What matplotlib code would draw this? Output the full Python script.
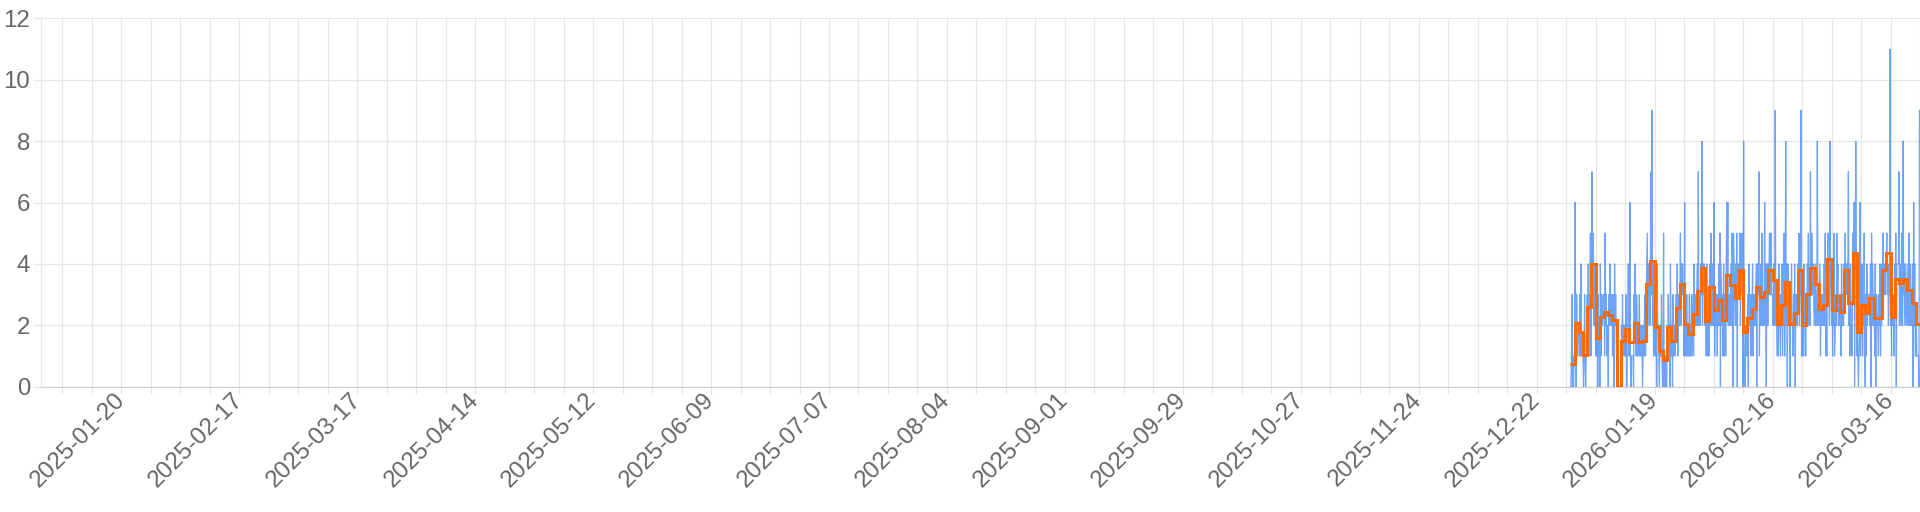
import datetime as dt
import matplotlib
matplotlib.use("Agg")
import matplotlib.pyplot as plt
import matplotlib.dates as mdates

# ---------------- data ----------------
x_start = dt.datetime(2025, 1, 1)
x_end = dt.datetime(2026, 3, 23)
series_start = dt.datetime(2025, 12, 30)

x_tick_labels = ["2025-01-20", "2025-02-17", "2025-03-17", "2025-04-14", "2025-05-12",
                 "2025-06-09", "2025-07-07", "2025-08-04", "2025-09-01", "2025-09-29",
                 "2025-10-27", "2025-11-24", "2025-12-22", "2026-01-19", "2026-02-16",
                 "2026-03-16"]
y_ticks = [0, 2, 4, 6, 8, 10, 12]

# daily average (orange step line), one value per day from 2025-12-30
orange_daily = [0.73, 2.08, 1.78, 1.02, 2.6, 4.0, 1.6, 2.28, 2.42, 2.32,
                2.17, 0.0, 1.49, 1.88, 1.47, 2.08, 1.47, 1.5, 3.35, 4.1,
                1.94, 1.16, 0.87, 1.93, 1.48, 2.55, 3.35, 2.04, 1.73, 2.37,
                3.13, 3.88, 2.14, 3.24, 2.5, 2.84, 2.17, 3.63, 3.32, 2.9,
                3.8, 1.78, 2.25, 2.54, 3.25, 2.92, 3.07, 3.8, 3.46, 2.03,
                2.65, 3.41, 2.05, 2.41, 3.8, 2.01, 3.02, 3.87, 3.35, 2.53,
                2.67, 4.16, 2.51, 2.94, 2.43, 3.8, 2.74, 4.36, 1.77, 2.67,
                2.39, 2.9, 2.24, 2.24, 3.8, 4.36, 2.26, 3.52, 3.37, 3.52,
                3.15, 2.74, 2.03]

# raw counts (blue line), 3-hourly samples per day from 2025-12-30 (estimated)
blue_by_day = [
    [0, 0, 1, 3, 0, 1, 0, 1], [1, 6, 2, 0, 3, 1, 2, 2], [2, 1, 3, 1, 4, 1, 1, 1],
    [1, 0, 1, 3, 1, 0, 1, 1], [3, 2, 4, 1, 3, 2, 5, 1], [4, 7, 3, 5, 4, 2, 4, 3],
    [1, 2, 1, 3, 0, 3, 1, 2], [0, 4, 1, 3, 2, 2, 3, 3], [3, 1, 5, 2, 3, 1, 2, 2],
    [0, 3, 2, 4, 2, 2, 3, 3], [1, 3, 2, 0, 4, 2, 3, 2], [0, 0, 0, 0, 0, 0, 0, 0],
    [0, 2, 1, 3, 1, 2, 2, 1], [2, 1, 3, 0, 2, 2, 4, 1], [1, 6, 1, 0, 1, 1, 1, 1],
    [0, 3, 2, 4, 2, 1, 3, 2], [1, 2, 1, 3, 1, 1, 2, 1], [2, 0, 1, 2, 1, 3, 2, 1],
    [3, 4, 5, 2, 4, 3, 4, 2], [4, 7, 3, 9, 2, 4, 1, 3], [2, 1, 3, 2, 0, 4, 2, 2],
    [1, 0, 2, 1, 1, 3, 1, 0], [0, 5, 0, 1, 0, 1, 0, 0], [2, 1, 3, 1, 2, 0, 4, 2],
    [1, 2, 0, 3, 1, 2, 2, 1], [2, 3, 2, 4, 1, 3, 3, 2], [3, 5, 2, 4, 3, 4, 3, 3],
    [1, 6, 1, 2, 1, 3, 1, 1], [2, 1, 3, 1, 2, 1, 3, 1], [2, 3, 1, 4, 2, 3, 2, 2],
    [3, 4, 2, 7, 2, 3, 2, 2], [4, 3, 8, 2, 4, 3, 4, 3], [2, 3, 1, 4, 2, 1, 3, 1],
    [3, 4, 2, 5, 3, 2, 4, 3], [2, 6, 1, 3, 2, 2, 3, 1], [3, 2, 4, 2, 5, 0, 4, 3],
    [2, 3, 1, 4, 2, 1, 3, 1], [4, 6, 3, 6, 2, 3, 3, 2], [3, 4, 2, 5, 4, 0, 5, 4],
    [3, 2, 4, 2, 5, 0, 4, 3], [4, 3, 5, 2, 4, 3, 5, 4], [0, 8, 1, 1, 0, 2, 1, 1],
    [2, 3, 0, 4, 2, 3, 3, 1], [3, 2, 4, 1, 3, 2, 3, 2], [3, 4, 0, 4, 4, 3, 7, 1],
    [3, 2, 4, 2, 5, 2, 3, 2], [3, 6, 2, 4, 0, 4, 4, 2], [4, 3, 5, 4, 3, 5, 3, 3],
    [3, 2, 4, 3, 2, 9, 3, 2], [2, 1, 3, 1, 4, 2, 2, 1], [3, 2, 4, 1, 3, 2, 5, 1],
    [3, 8, 2, 4, 0, 4, 3, 3], [2, 0, 3, 2, 4, 2, 2, 1], [3, 2, 4, 0, 3, 2, 3, 2],
    [4, 3, 5, 2, 3, 3, 9, 1], [2, 1, 3, 1, 4, 2, 2, 1], [3, 2, 4, 3, 5, 2, 3, 2],
    [7, 3, 4, 5, 3, 4, 3, 2], [3, 4, 2, 3, 2, 8, 3, 2], [2, 3, 4, 1, 3, 2, 3, 2],
    [3, 2, 4, 2, 5, 1, 3, 1], [4, 5, 3, 4, 2, 8, 4, 3], [2, 4, 1, 3, 2, 5, 1, 2],
    [3, 2, 5, 3, 4, 2, 3, 2], [2, 3, 1, 4, 2, 3, 2, 2], [4, 3, 5, 3, 4, 4, 3, 4],
    [7, 2, 3, 1, 4, 2, 2, 1], [4, 5, 3, 6, 0, 4, 8, 5], [1, 2, 1, 0, 1, 2, 6, 1],
    [3, 2, 4, 1, 3, 2, 5, 1], [0, 3, 1, 4, 2, 3, 3, 3], [3, 2, 4, 0, 5, 2, 4, 3],
    [2, 3, 1, 4, 0, 3, 3, 2], [2, 1, 3, 2, 4, 1, 3, 2], [4, 3, 5, 3, 4, 4, 3, 4],
    [4, 5, 3, 4, 2, 3, 3, 11], [2, 3, 1, 4, 2, 2, 3, 1], [4, 3, 5, 0, 4, 4, 4, 4],
    [7, 2, 4, 3, 2, 5, 2, 2], [8, 3, 4, 2, 3, 4, 2, 2], [3, 4, 2, 5, 3, 2, 4, 2],
    [3, 2, 4, 0, 6, 2, 4, 1], [1, 2, 1, 1, 1, 1, 0, 9],
]

# ---------------- styling ----------------
GRID = "#e6e6e6"
AXIS = "#d0d0d0"
TEXT = "#666666"
BLUE = "#2f7cf6"
ORANGE = "#ff6a00"
FONT = "Liberation Sans"
FS = 17.3

# build time stamps
blue_t, blue_v = [], []
for k, day in enumerate(blue_by_day):
    n = len(day)
    for j, v in enumerate(day):
        blue_t.append(series_start + dt.timedelta(days=k, hours=24.0 * j / n))
        blue_v.append(v)
edges = [series_start + dt.timedelta(days=k) for k in range(len(orange_daily) + 1)]

fig = plt.figure(figsize=(19.2, 5.12), dpi=100)
ax = fig.add_axes([41.3 / 1920, 125.3 / 512, 1 - 41.3 / 1920, 368.4 / 512])

ax.plot(blue_t, blue_v, color=BLUE, lw=0.9, alpha=0.7, zorder=3)
ax.stairs(orange_daily, mdates.date2num(edges), baseline=None, color=ORANGE,
          lw=2.2, zorder=4)

ax.set_xlim(x_start, x_end)
ax.set_ylim(0, 12)

label_dates = [dt.datetime.strptime(s, "%Y-%m-%d") for s in x_tick_labels]
ax.set_xticks(label_dates)
ax.set_xticklabels(x_tick_labels)
ax.xaxis.set_minor_locator(mdates.WeekdayLocator(byweekday=mdates.MO))
ax.set_yticks(y_ticks)
ax.set_yticklabels([str(v) for v in y_ticks])

ax.grid(True, which="both", axis="x", color=GRID, lw=0.9, zorder=0)
ax.grid(True, which="major", axis="y", color=GRID, lw=0.9, zorder=0)
ax.set_axisbelow(True)

ax.tick_params(axis="x", which="both", length=5.2, width=0.9, color=GRID,
               labelsize=FS, labelcolor=TEXT, pad=2)
ax.tick_params(axis="y", which="major", length=5.8, width=0.9, color=GRID,
               labelsize=FS, labelcolor=TEXT, pad=2.2)
for lab in ax.get_xticklabels():
    lab.set_rotation(45)
    lab.set_ha("right")
    lab.set_va("center")
    lab.set_rotation_mode("anchor")
    lab.set_fontfamily(FONT)
for lab in ax.get_yticklabels():
    lab.set_fontfamily(FONT)

for side in ("top", "right"):
    ax.spines[side].set_visible(False)
ax.spines["left"].set_color(GRID)
ax.spines["left"].set_linewidth(0.9)
ax.spines["bottom"].set_color(AXIS)
ax.spines["bottom"].set_linewidth(0.9)

fig.savefig("out.png", dpi=100)
